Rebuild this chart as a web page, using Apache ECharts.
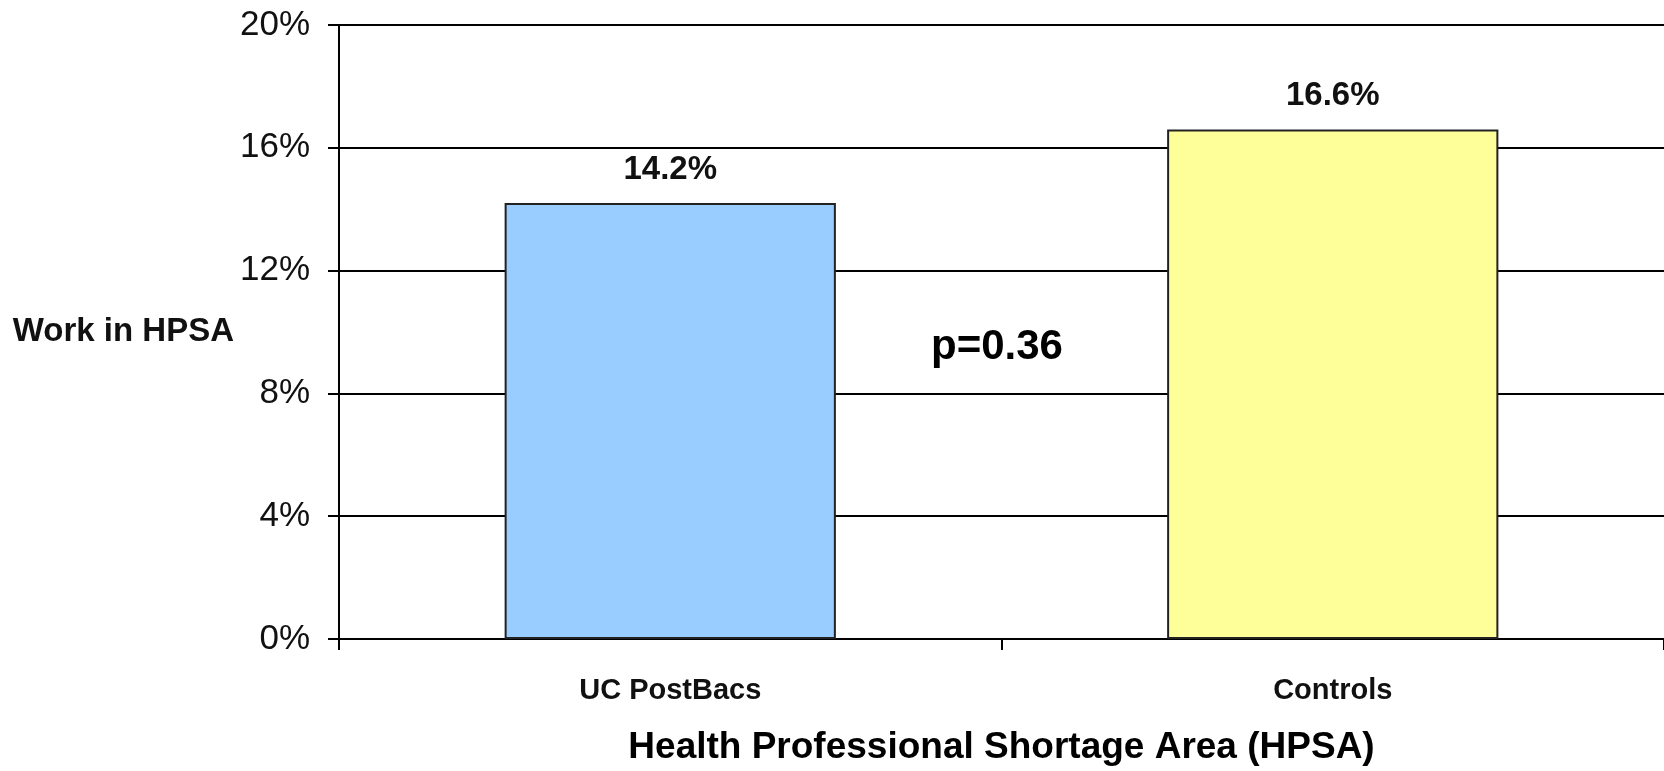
<!DOCTYPE html>
<html>
<head>
<meta charset="utf-8">
<script src="https://cdn.jsdelivr.net/npm/echarts@6/dist/echarts.min.js"></script>
<style>
html,body{margin:0;padding:0;background:#fff;}
#chart{width:1664px;height:771px;}
</style>
</head>
<body>
<div id="chart"></div>
<script>
const categories = ['UC PostBacs', 'Controls'];
const values = [14.2, 16.6];
const barColors = ['#99CCFF', '#FFFF99'];
const yTicks = { min: 0, max: 20, interval: 4 };
const xAxisTitle = 'Health Professional Shortage Area (HPSA)';
const yAxisTitle = 'Work in HPSA';
const annotation = 'p=0.36';

const chart = echarts.init(document.getElementById('chart'));
chart.setOption({
  backgroundColor: '#ffffff',
  animation: false,
  grid: { left: 339, top: 25, width: 1336, bottom: 122, containLabel: false },
  xAxis: {
    type: 'category',
    data: categories,
    name: xAxisTitle,
    nameLocation: 'middle',
    nameGap: 90,
    nameTextStyle: { fontFamily: 'Liberation Sans', fontWeight: 'bold', fontSize: 37, color: '#000' },
    axisLine: { lineStyle: { color: '#000', width: 2 } },
    axisTick: { show: true, length: 11, lineStyle: { color: '#000', width: 2 } },
    axisLabel: { margin: 37, fontFamily: 'Liberation Sans', fontWeight: 'bold', fontSize: 29, color: '#111' },
    splitLine: { show: false }
  },
  yAxis: {
    type: 'value',
    min: yTicks.min, max: yTicks.max, interval: yTicks.interval,
    name: yAxisTitle,
    nameLocation: 'middle',
    nameRotate: 0,
    nameGap: 101,
    nameTextStyle: { fontFamily: 'Liberation Sans', fontWeight: 'bold', fontSize: 33, color: '#111', padding: [8, 0, 0, 0] },
    axisLine: { show: true, lineStyle: { color: '#000', width: 2 } },
    axisTick: { show: true, length: 11, lineStyle: { color: '#000', width: 2 } },
    axisLabel: { margin: 29, formatter: '{value}%', fontFamily: 'Liberation Sans', fontSize: 35, color: '#111' },
    splitLine: { show: true, lineStyle: { color: '#000', width: 2 } }
  },
  series: [{
    type: 'bar',
    barWidth: '50%',
    data: values.map((v, i) => ({ value: v, itemStyle: { color: barColors[i] } })),
    itemStyle: { borderColor: '#222', borderWidth: 2 },
    label: {
      show: true, position: 'top', distance: 17,
      formatter: p => p.value.toFixed(1) + '%',
      fontFamily: 'Liberation Sans', fontWeight: 'bold', fontSize: 33, color: '#111'
    }
  }],
  graphic: [{
    type: 'text',
    left: 931, top: 326,
    style: { text: annotation, fontFamily: 'Liberation Sans', fontWeight: 'bold', fontSize: 42, fill: '#000' }
  }]
});
</script>
</body>
</html>
